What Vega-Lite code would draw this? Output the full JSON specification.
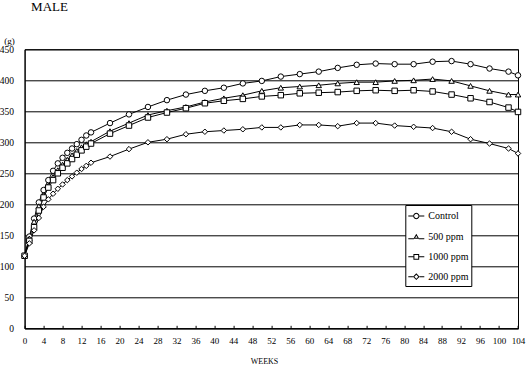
{
  "$schema": "https://vega.github.io/schema/vega-lite/v6.json",
  "width": 493.4,
  "height": 279,
  "autosize": {"type": "none"},
  "padding": {"left": 24.6, "top": 49.3, "right": 8, "bottom": 40.7},
  "background": "white",
  "title": {"text": "MALE", "anchor": "start", "frame": "group", "dx": 6.5, "dy": 9, "font": "Liberation Serif", "fontSize": 13, "fontWeight": "normal", "color": "black", "baseline": "alphabetic", "offset": 21},
  "config": {
    "view": {"stroke": "black", "strokeWidth": 1},
    "axis": {"domainColor": "black", "tickColor": "black", "labelColor": "black", "titleColor": "black", "labelFont": "Liberation Serif", "titleFont": "Liberation Serif", "labelFontSize": 10, "titleFontWeight": "normal", "gridColor": "black", "gridOpacity": 1, "gridWidth": 1}
  },
  "data": {"values": [
    {"group":"Control","week":0,"bw":117},{"group":"Control","week":1,"bw":148},{"group":"Control","week":2,"bw":177},{"group":"Control","week":3,"bw":203},{"group":"Control","week":4,"bw":223},{"group":"Control","week":5,"bw":239},{"group":"Control","week":6,"bw":254},{"group":"Control","week":7,"bw":266},{"group":"Control","week":8,"bw":275},{"group":"Control","week":9,"bw":283},{"group":"Control","week":10,"bw":290},{"group":"Control","week":11,"bw":297},{"group":"Control","week":12,"bw":304},{"group":"Control","week":13,"bw":311},{"group":"Control","week":14,"bw":316},
    {"group":"Control","week":18,"bw":331},{"group":"Control","week":22,"bw":345},{"group":"Control","week":26,"bw":357},{"group":"Control","week":30,"bw":368},{"group":"Control","week":34,"bw":377},{"group":"Control","week":38,"bw":383},{"group":"Control","week":42,"bw":388},{"group":"Control","week":46,"bw":395},{"group":"Control","week":50,"bw":399},{"group":"Control","week":54,"bw":406},{"group":"Control","week":58,"bw":410},{"group":"Control","week":62,"bw":414},{"group":"Control","week":66,"bw":420},{"group":"Control","week":70,"bw":425},{"group":"Control","week":74,"bw":427},{"group":"Control","week":78,"bw":426},{"group":"Control","week":82,"bw":426},{"group":"Control","week":86,"bw":430},{"group":"Control","week":90,"bw":431},{"group":"Control","week":94,"bw":426},{"group":"Control","week":98,"bw":419},{"group":"Control","week":102,"bw":414},{"group":"Control","week":104,"bw":408},
    {"group":"500 ppm","week":0,"bw":117},{"group":"500 ppm","week":1,"bw":145},{"group":"500 ppm","week":2,"bw":172},{"group":"500 ppm","week":3,"bw":197},{"group":"500 ppm","week":4,"bw":215},{"group":"500 ppm","week":5,"bw":230},{"group":"500 ppm","week":6,"bw":244},{"group":"500 ppm","week":7,"bw":255},{"group":"500 ppm","week":8,"bw":264},{"group":"500 ppm","week":9,"bw":272},{"group":"500 ppm","week":10,"bw":279},{"group":"500 ppm","week":11,"bw":286},{"group":"500 ppm","week":12,"bw":292},{"group":"500 ppm","week":13,"bw":297},{"group":"500 ppm","week":14,"bw":301},
    {"group":"500 ppm","week":18,"bw":318},{"group":"500 ppm","week":22,"bw":331},{"group":"500 ppm","week":26,"bw":344},{"group":"500 ppm","week":30,"bw":351},{"group":"500 ppm","week":34,"bw":357},{"group":"500 ppm","week":38,"bw":365},{"group":"500 ppm","week":42,"bw":371},{"group":"500 ppm","week":46,"bw":376},{"group":"500 ppm","week":50,"bw":383},{"group":"500 ppm","week":54,"bw":388},{"group":"500 ppm","week":58,"bw":390},{"group":"500 ppm","week":62,"bw":392},{"group":"500 ppm","week":66,"bw":395},{"group":"500 ppm","week":70,"bw":397},{"group":"500 ppm","week":74,"bw":397},{"group":"500 ppm","week":78,"bw":399},{"group":"500 ppm","week":82,"bw":400},{"group":"500 ppm","week":86,"bw":402},{"group":"500 ppm","week":90,"bw":399},{"group":"500 ppm","week":94,"bw":391},{"group":"500 ppm","week":98,"bw":383},{"group":"500 ppm","week":102,"bw":377},{"group":"500 ppm","week":104,"bw":377},
    {"group":"1000 ppm","week":0,"bw":117},{"group":"1000 ppm","week":1,"bw":141},{"group":"1000 ppm","week":2,"bw":163},{"group":"1000 ppm","week":3,"bw":190},{"group":"1000 ppm","week":4,"bw":211},{"group":"1000 ppm","week":5,"bw":227},{"group":"1000 ppm","week":6,"bw":239},{"group":"1000 ppm","week":7,"bw":250},{"group":"1000 ppm","week":8,"bw":259},{"group":"1000 ppm","week":9,"bw":266},{"group":"1000 ppm","week":10,"bw":273},{"group":"1000 ppm","week":11,"bw":280},{"group":"1000 ppm","week":12,"bw":287},{"group":"1000 ppm","week":13,"bw":293},{"group":"1000 ppm","week":14,"bw":298},
    {"group":"1000 ppm","week":18,"bw":314},{"group":"1000 ppm","week":22,"bw":327},{"group":"1000 ppm","week":26,"bw":340},{"group":"1000 ppm","week":30,"bw":348},{"group":"1000 ppm","week":34,"bw":355},{"group":"1000 ppm","week":38,"bw":363},{"group":"1000 ppm","week":42,"bw":367},{"group":"1000 ppm","week":46,"bw":370},{"group":"1000 ppm","week":50,"bw":374},{"group":"1000 ppm","week":54,"bw":376},{"group":"1000 ppm","week":58,"bw":379},{"group":"1000 ppm","week":62,"bw":380},{"group":"1000 ppm","week":66,"bw":381},{"group":"1000 ppm","week":70,"bw":383},{"group":"1000 ppm","week":74,"bw":384},{"group":"1000 ppm","week":78,"bw":383},{"group":"1000 ppm","week":82,"bw":384},{"group":"1000 ppm","week":86,"bw":382},{"group":"1000 ppm","week":90,"bw":377},{"group":"1000 ppm","week":94,"bw":371},{"group":"1000 ppm","week":98,"bw":365},{"group":"1000 ppm","week":102,"bw":356},{"group":"1000 ppm","week":104,"bw":349},
    {"group":"2000 ppm","week":0,"bw":117},{"group":"2000 ppm","week":1,"bw":137},{"group":"2000 ppm","week":2,"bw":158},{"group":"2000 ppm","week":3,"bw":178},{"group":"2000 ppm","week":4,"bw":196},{"group":"2000 ppm","week":5,"bw":208},{"group":"2000 ppm","week":6,"bw":217},{"group":"2000 ppm","week":7,"bw":225},{"group":"2000 ppm","week":8,"bw":232},{"group":"2000 ppm","week":9,"bw":239},{"group":"2000 ppm","week":10,"bw":245},{"group":"2000 ppm","week":11,"bw":251},{"group":"2000 ppm","week":12,"bw":257},{"group":"2000 ppm","week":13,"bw":262},{"group":"2000 ppm","week":14,"bw":267},
    {"group":"2000 ppm","week":18,"bw":277},{"group":"2000 ppm","week":22,"bw":289},{"group":"2000 ppm","week":26,"bw":300},{"group":"2000 ppm","week":30,"bw":305},{"group":"2000 ppm","week":34,"bw":313},{"group":"2000 ppm","week":38,"bw":317},{"group":"2000 ppm","week":42,"bw":319},{"group":"2000 ppm","week":46,"bw":321},{"group":"2000 ppm","week":50,"bw":324},{"group":"2000 ppm","week":54,"bw":324},{"group":"2000 ppm","week":58,"bw":328},{"group":"2000 ppm","week":62,"bw":328},{"group":"2000 ppm","week":66,"bw":326},{"group":"2000 ppm","week":70,"bw":331},{"group":"2000 ppm","week":74,"bw":331},{"group":"2000 ppm","week":78,"bw":327},{"group":"2000 ppm","week":82,"bw":325},{"group":"2000 ppm","week":86,"bw":323},{"group":"2000 ppm","week":90,"bw":317},{"group":"2000 ppm","week":94,"bw":305},{"group":"2000 ppm","week":98,"bw":298},{"group":"2000 ppm","week":102,"bw":290},{"group":"2000 ppm","week":104,"bw":282}
  ]},
  "encoding": {
    "x": {"field": "week", "type": "quantitative", "scale": {"domain": [0, 104], "nice": false, "zero": false},
      "axis": {"values": [0,4,8,12,16,20,24,28,32,36,40,44,48,52,56,60,64,68,72,76,80,84,88,92,96,100,104], "grid": false, "tickSize": -3, "labelPadding": 11, "labelFontSize": 9, "labelFlush": false,
        "title": "WEEKS", "titleFontSize": 8, "titleX": 239.4, "titleY": 33.5, "titleAnchor": "middle", "titleBaseline": "middle"}},
    "y": {"field": "bw", "type": "quantitative", "scale": {"domain": [0, 450], "nice": false},
      "axis": {"values": [0,50,100,150,200,250,300,350,400,450], "grid": true, "tickSize": 0, "labelPadding": 11, "labelFontSize": 9.5,
        "title": "(g)", "titleAngle": 0, "titleFontSize": 9, "titleX": -15.6, "titleY": -9, "titleAlign": "center", "titleBaseline": "middle"}}
  },
  "layer": [
    {"mark": {"type": "line", "color": "black", "strokeWidth": 1},
     "encoding": {"detail": {"field": "group", "type": "nominal"}}},
    {"mark": {"type": "point", "filled": true, "fill": "white", "stroke": "black", "strokeWidth": 1, "size": 30, "opacity": 1},
     "encoding": {"shape": {"field": "group", "type": "nominal",
        "scale": {"domain": ["Control", "500 ppm", "1000 ppm", "2000 ppm"], "range": ["circle", "triangle-up", "square", "diamond"]},
        "legend": null}}},
    {"transform": [{"filter": "false"}],
     "mark": {"type": "point", "filled": true, "color": "black", "fill": "black", "opacity": 1},
     "encoding": {"shape": {"field": "group", "type": "nominal",
        "scale": {"domain": ["Control", "500 ppm", "1000 ppm", "2000 ppm"],
          "range": [
            "M-1,-0.0625H-0.4V0.0625H-1ZM0.4,-0.0625H1V0.0625H0.4ZM0.4,0L0.346,0.2L0.2,0.346L0,0.4L-0.2,0.346L-0.346,0.2L-0.4,0L-0.346,-0.2L-0.2,-0.346L0,-0.4L0.2,-0.346L0.346,-0.2ZM0.27,0L0.234,-0.135L0.135,-0.234L0,-0.27L-0.135,-0.234L-0.234,-0.135L-0.27,0L-0.234,0.135L-0.135,0.234L0,0.27L0.135,0.234L0.234,0.135Z",
            "M-1,0.18H-0.3V0.3H-1ZM0.3,0.18H1V0.3H0.3ZM0,-0.38L0.36,0.24L-0.36,0.24ZM0,-0.131L-0.1426,0.115L0.1426,0.115Z",
            "M-1,-0.0625H-0.36V0.0625H-1ZM0.36,-0.0625H1V0.0625H0.36ZM-0.36,-0.36H0.36V0.36H-0.36ZM-0.235,-0.235V0.235H0.235V-0.235Z",
            "M-1,-0.0625H-0.42V0.0625H-1ZM0.42,-0.0625H1V0.0625H0.42ZM0,-0.42L0.42,0L0,0.42L-0.42,0ZM0,-0.243L-0.243,0L0,0.243L0.243,0Z"
          ]},
        "legend": {"orient": "none", "legendX": 380.7, "legendY": 155.7, "title": null,
          "fillColor": "white", "strokeColor": "black", "padding": 2, "symbolSize": 256,
          "symbolFillColor": "black", "symbolOpacity": 1,
          "labelFont": "Liberation Serif", "labelFontSize": 10, "labelColor": "black", "rowPadding": 4.9, "labelOffset": 3, "cornerRadius": 0}}}}
  ],
  "resolve": {"scale": {"shape": "independent"}}
}
